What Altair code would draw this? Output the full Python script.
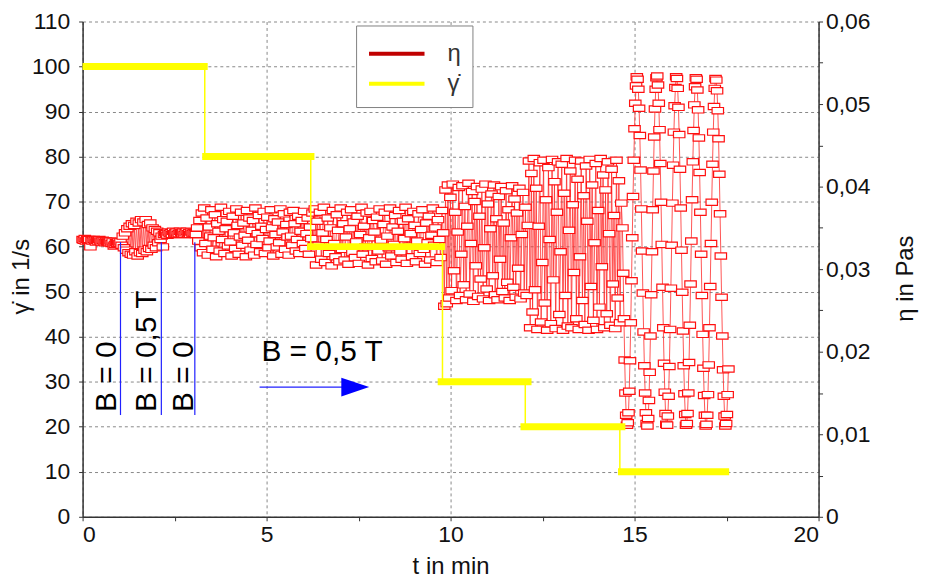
import altair as alt
import pandas as pd
import numpy as np

# ---------------- data ----------------
# measurement segments (t in min), eta values in mPas (read from the picture)
seg_starts = [0.00, 1.03, 2.15, 3.08, 6.31, 9.83, 12.13, 14.67]
seg_ends = [1.00, 2.12, 3.05, 6.28, 9.80, 12.10, 14.64, 17.55]

eta_a = [33.6, 33.5, 33.7, 33.4, 33.6, 33.5, 33.6, 32.7, 33.5, 33.4, 33.6, 33.5, 33.3, 33.5, 33.4, 33.6, 33.4,
         33.3, 33.5, 33.4, 33.2, 33.4, 33.3, 33.3, 33.2, 33.4, 33.1, 33.3, 32.8, 33.0, 33.2, 33.1, 33.3, 33.1]
eta_b = [33.3, 32.9, 34.0, 32.6, 34.4, 32.3, 34.9, 32.0, 35.2, 31.8, 35.5, 31.7, 35.3, 32.1, 35.8, 31.6, 35.6, 32.0,
         36.0, 31.9, 35.7, 32.3, 36.0, 32.1, 35.4, 32.5, 35.6, 32.4, 35.0, 32.9, 34.8, 32.6, 34.6, 33.2, 34.4, 33.6]
eta_c = [34.0, 32.7, 34.2, 34.4, 34.3, 34.1, 34.5, 34.3, 34.4, 34.2, 34.6, 34.3, 34.4, 34.5, 34.2, 34.3, 34.6, 34.4,
         34.3, 34.5, 34.2, 34.4, 34.6, 34.3, 34.4, 34.2, 34.5, 34.3, 34.4, 34.3]
eta_e = [34.2, 35.0, 33.4, 35.9, 32.6, 36.8, 32.0, 37.4, 33.1, 36.2, 31.7, 35.1, 34.0, 37.2, 32.4, 33.8, 36.6, 31.5,
         35.5, 34.6, 32.2, 37.5, 33.6, 36.0, 31.9, 34.9, 35.8, 32.8, 37.0, 33.3, 31.6, 36.4, 34.4, 32.5, 37.3, 35.3,
         31.8, 33.9, 36.9, 32.9, 35.6, 34.1, 31.5, 37.1, 33.5, 36.2, 32.3, 34.7, 35.9, 31.7, 37.4, 33.0, 34.3, 36.5,
         32.1, 35.2, 33.7, 37.0, 31.9, 34.8, 36.3, 32.6, 33.4, 37.2, 35.0, 31.6, 36.1, 34.2, 32.7, 35.7, 33.2, 37.3,
         31.8, 34.5, 36.7, 32.4, 35.4, 33.9, 31.7, 36.9, 34.0, 32.9, 37.1, 35.5, 32.2, 33.6, 36.4, 31.9, 34.6, 35.9,
         33.1, 37.0, 32.5, 34.3, 36.2, 31.8, 35.1, 33.7, 36.8, 32.8]
eta_f = [37.3, 30.5, 35.8, 32.9, 36.9, 31.2, 34.4, 37.5, 30.8, 33.6, 36.2, 31.9, 35.0, 30.4, 37.1, 33.1, 31.5, 36.6,
         34.7, 30.9, 37.4, 32.4, 35.5, 31.1, 33.9, 36.9, 30.6, 34.9, 37.2, 32.0, 35.7, 31.4, 33.3, 36.4, 30.7, 34.2,
         37.5, 31.8, 35.2, 32.7, 36.8, 30.5, 33.8, 37.0, 31.3, 35.9, 34.5, 30.9, 36.3, 32.2, 37.3, 33.5, 31.0, 35.4,
         36.9, 30.6, 34.0, 32.6, 37.4, 31.6, 35.1, 33.0, 36.5, 30.8, 34.6, 37.1, 32.1, 31.2, 35.8, 33.7, 37.5, 30.7,
         36.1, 32.8, 34.3, 31.5, 37.0, 35.3, 30.9, 33.4, 36.7, 31.9, 34.8, 37.2, 32.4, 30.6, 35.6, 33.2, 36.4, 31.1,
         34.1, 37.4, 32.9, 35.0, 30.8, 36.0, 33.6, 31.4, 37.1, 34.4]
eta_g = [25.5, 39.6, 25.8, 40.2, 26.5, 38.7, 27.4, 40.3, 29.8, 36.9, 26.2, 34.5, 39.9, 26.8, 31.8, 40.1, 28.1, 37.6,
         26.3, 35.2, 40.4, 27.0, 33.1, 39.4, 26.1, 38.2, 30.4, 40.0, 26.7, 36.4, 28.8, 39.7, 26.4, 32.6, 40.3, 27.6,
         37.9, 26.2, 34.9, 39.1, 29.2, 40.2, 26.9, 36.1, 26.3, 38.8, 31.2, 40.0, 27.3, 35.6, 26.5, 39.5, 28.4, 37.2,
         26.2, 33.8, 40.1, 27.8, 38.5, 26.6, 36.8, 30.1, 39.8, 26.4, 34.2, 39.3, 27.1, 37.5, 26.8, 35.3]
eta_h = [43.1, 22.9, 41.6, 24.8, 43.4, 27.5, 39.8, 22.7, 35.2, 42.9, 23.6, 30.8, 43.2, 25.9, 38.4, 22.6, 42.3, 33.6,
         23.4, 43.3, 28.7, 40.6, 22.8, 36.9, 43.0, 24.5, 32.1, 42.7, 22.6, 39.2, 26.8, 43.4, 23.1, 34.7, 41.9, 22.9,
         37.8, 29.6, 43.2, 24.0, 40.9, 22.7, 31.5, 43.1, 26.2, 38.9, 23.3, 42.5, 35.8, 22.6, 43.3, 27.9, 40.2, 23.8,
         33.2, 42.8, 22.7, 37.1, 25.4, 43.4, 30.3, 41.4, 22.9, 39.6, 24.6, 43.0, 34.3, 23.2, 42.1, 28.2, 36.5, 22.8,
         43.2, 26.5, 40.7, 23.5, 38.0]
eta_i = [35.0, 29.5, 24.0, 19.0, 15.0, 12.3, 11.1,
         11.4, 12.6, 15.2, 18.9, 23.5, 28.6, 33.8, 38.8, 43.2, 47.0, 50.1, 52.2, 53.3,
         53.0, 51.8, 49.5, 46.2, 42.0, 37.3, 32.2, 27.1, 22.4, 18.3, 15.0, 12.6, 11.3,
         11.0, 11.9, 14.1, 17.5, 21.9, 26.9, 32.1, 37.2, 41.9, 46.0, 49.4, 51.8, 53.2,
         53.4, 52.3, 50.1, 46.9, 42.8, 38.1, 33.0, 27.8, 22.9, 18.6, 15.1, 12.5, 11.2,
         11.1, 12.2, 14.6, 18.2, 22.7, 27.7, 32.9, 38.0, 42.6, 46.6, 49.8, 52.0, 53.3,
         53.1, 51.9, 49.6, 46.3, 42.1, 37.4, 32.3, 27.2, 22.5, 18.3, 14.9, 12.4, 11.1,
         11.3, 12.5, 15.0, 18.7, 23.2, 28.2, 33.4, 38.4, 43.0, 46.8, 49.9, 52.1, 53.2,
         53.0, 51.7, 49.3, 45.9, 41.7, 36.9, 31.8, 26.8, 22.1, 18.0, 14.7, 12.3, 11.0,
         11.2, 12.3, 14.8, 18.4, 22.9, 27.9, 33.1, 38.1, 42.7, 46.6, 49.7, 51.9, 53.1,
         52.9, 51.6, 49.2, 45.8, 41.5, 36.7, 31.6, 26.6, 21.9, 17.8, 14.6, 12.2, 11.0,
         11.3, 12.4, 14.8, 17.9]
eta_segments = [eta_a, eta_b, eta_c, eta_e, eta_f, eta_g, eta_h, eta_i]

# shear rate steps (1/s)
step_t = [0.0, 3.32, 6.20, 9.78, 12.03, 14.60, 17.57]
step_gamma = [100, 80, 60, 30, 20, 10, 10]
band_start = [0.0, 3.25, 6.10, 9.65, 11.90, 14.55]
band_end = [3.40, 6.30, 9.85, 12.20, 14.75, 17.57]
band_gamma = [100, 80, 60, 30, 20, 10]

# magnetic field annotations
b_line_t = [1.03, 2.14, 3.05]
b_line_top = [61, 61, 61]
b_line_bottom = [22.6, 22.6, 22.6]
b_label_text = ["B = 0", "B = 0,5 T", "B = 0"]
b_label_t = [0.92, 2.0, 3.0]
b_label_g = [23.3, 23.3, 23.3]
b_main_text = ["B = 0,5 T"]
b_main_t = [4.86]
b_main_g = [34.7]
arrow_t0 = [4.81]
arrow_t1 = [7.2]
arrow_g = [28.8]
arrow_head_t = [7.41]

# axes ticks
x_ticks = [0, 2.5, 5, 7.5, 10, 12.5, 15, 17.5, 20]
g_ticks = [0, 5, 10, 15, 20, 25, 30, 35, 40, 45, 50, 55, 60, 65, 70, 75, 80, 85, 90, 95, 100, 105, 110]
eta_ticks = [0, 0.005, 0.01, 0.015, 0.02, 0.025, 0.03, 0.035, 0.04, 0.045, 0.05, 0.055, 0.06]
series_names = ["η", "γ̇"]
series_colors = ["#c00000", "#ffff00"]

# ---------------- tables ----------------
rows = []
for t0, t1, vals in zip(seg_starts, seg_ends, eta_segments):
    ts = np.linspace(t0, t1, len(vals))
    for t, v in zip(ts, vals):
        rows.append({"t": float(t), "eta": v / 1000.0})
df_eta = pd.DataFrame(rows)
df_eta["i"] = range(len(df_eta))

df_step = pd.DataFrame({"t": step_t, "g": step_gamma})
df_band = pd.DataFrame({"t0": band_start, "t1": band_end, "g": band_gamma})
df_bline = pd.DataFrame({"t": b_line_t, "g0": b_line_top, "g1": b_line_bottom})
df_blabel = pd.DataFrame({"t": b_label_t, "g": b_label_g, "txt": b_label_text})
df_bmain = pd.DataFrame({"t": b_main_t, "g": b_main_g, "txt": b_main_text})
df_arrow = pd.DataFrame({"t0": arrow_t0, "t1": arrow_t1, "g": arrow_g, "th": arrow_head_t})
df_leg = pd.DataFrame({"series": series_names, "t": [0, 0], "g": [0, 0]})

FONT = "Liberation Sans"
x_scale = alt.Scale(domain=[0, 20], nice=False, zero=False)
g_scale = alt.Scale(domain=[0, 110], nice=False)
eta_scale = alt.Scale(domain=[0, 0.06], nice=False)

x_axis = alt.Axis(
    values=x_ticks, title="t in min", grid=True,
    labelExpr="datum.value % 5 == 0 ? datum.label : ''",
    gridOpacity={"condition": {"test": "datum.value % 5 != 0", "value": 0}, "value": 1},
    titleX=370, titleY=50, titleBaseline="middle", labelPadding=3,
)
g_axis = alt.Axis(
    orient="left", values=g_ticks, title="γ̇ in 1/s", grid=True,
    labelExpr="datum.value % 10 == 0 ? datum.label : ''",
    gridOpacity={"condition": {"test": "datum.value % 10 != 0", "value": 0}, "value": 1},
    titleAngle=270, titleX=-61, titleY=256, titleBaseline="middle", titleAlign="center",
    labelPadding=9,
)
eta_axis = alt.Axis(
    orient="right", values=eta_ticks, title="η in Pas", grid=False,
    labelExpr="round(datum.value*200) % 2 == 1 ? '' : (datum.value < 0.001 ? '0' : replace(format(datum.value, '.2f'), '.', ','))",
    titleAngle=270, titleX=87, titleY=258, titleBaseline="middle", titleAlign="center",
    labelPadding=3,
)

rect_path = "M-1,-0.55L1,-0.55L1,0.55L-1,0.55Z"
tri_path = "M-1,-0.68L1,0L-1,0.68Z"

red_line = alt.Chart(df_eta).mark_line(color="#ff2a2a", strokeWidth=0.8).encode(
    x=alt.X("t:Q", scale=x_scale, axis=x_axis),
    y=alt.Y("eta:Q", scale=eta_scale, axis=eta_axis),
    order="i:Q",
)
red_pts = alt.Chart(df_eta).mark_point(
    shape=rect_path, size=132, filled=True, fill="white", stroke="#ff1010", strokeWidth=1.2, opacity=1
).encode(x=alt.X("t:Q", scale=x_scale), y=alt.Y("eta:Q", scale=eta_scale))
red_group = alt.layer(red_line, red_pts)

bands = alt.Chart(df_band).mark_rule(color="#ffff00", strokeWidth=7).encode(
    x=alt.X("t0:Q", scale=x_scale, axis=x_axis), x2="t1:Q",
    y=alt.Y("g:Q", scale=g_scale, axis=g_axis),
)
steps = alt.Chart(df_step).mark_line(color="#ffff00", strokeWidth=1.5, interpolate="step-after").encode(
    x=alt.X("t:Q", scale=x_scale), y=alt.Y("g:Q", scale=g_scale)
)
blines = alt.Chart(df_bline).mark_rule(color="#2020ff", strokeWidth=1.2).encode(
    x=alt.X("t:Q", scale=x_scale), y=alt.Y("g0:Q", scale=g_scale), y2="g1:Q"
)
blabels = alt.Chart(df_blabel).mark_text(
    angle=270, align="left", baseline="alphabetic", fontSize=30, font=FONT, color="black"
).encode(x=alt.X("t:Q", scale=x_scale), y=alt.Y("g:Q", scale=g_scale), text="txt:N")
bmain = alt.Chart(df_bmain).mark_text(
    align="left", baseline="alphabetic", fontSize=30, font=FONT, color="black"
).encode(x=alt.X("t:Q", scale=x_scale), y=alt.Y("g:Q", scale=g_scale), text="txt:N")
arrow_line = alt.Chart(df_arrow).mark_rule(color="#2020ff", strokeWidth=1.2).encode(
    x=alt.X("t0:Q", scale=x_scale), x2="t1:Q", y=alt.Y("g:Q", scale=g_scale)
)
arrow_head = alt.Chart(df_arrow).mark_point(
    shape=tri_path, size=784, filled=True, color="#0000ff", opacity=1
).encode(x=alt.X("th:Q", scale=x_scale), y=alt.Y("g:Q", scale=g_scale))

legend_layer = alt.Chart(df_leg).mark_line(strokeWidth=4).encode(
    x=alt.X("t:Q", scale=x_scale), y=alt.Y("g:Q", scale=g_scale),
    color=alt.Color(
        "series:N",
        scale=alt.Scale(domain=series_names, range=series_colors),
        legend=alt.Legend(
            title=None, orient="none", legendX=275, legendY=4,
            symbolType="M-1,0L2.6,0", symbolSize=961, symbolStrokeWidth=4, symbolOpacity=1,
            labelFontSize=24, labelFont=FONT, labelColor="#333333", labelOffset=46,
            labelExpr="datum.label + '     '",
            padding=11, rowPadding=0, strokeColor="#808080", fillColor="white",
        ),
    ),
)

yellow_group = alt.layer(bands, steps, blines, blabels, bmain, arrow_line, arrow_head, legend_layer)

chart = alt.layer(red_group, yellow_group).resolve_scale(y="independent").properties(
    width=740, height=498,
    padding={"left": 75, "top": 12, "right": 102, "bottom": 68},
    autosize=alt.AutoSizeParams(type="none"),
).configure_view(stroke=None).configure_axis(
    labelFont=FONT, labelFontSize=23, labelColor="#111111",
    titleFont=FONT, titleFontSize=24, titleColor="#111111", titleFontWeight="normal",
    domainColor="#333333", domainWidth=1.5, tickColor="#333333", tickSize=4,
    gridColor="#888888", gridDash=[3, 3], gridWidth=1,
)

chart.save("out.html", embed_options={"renderer": "svg", "actions": False})
